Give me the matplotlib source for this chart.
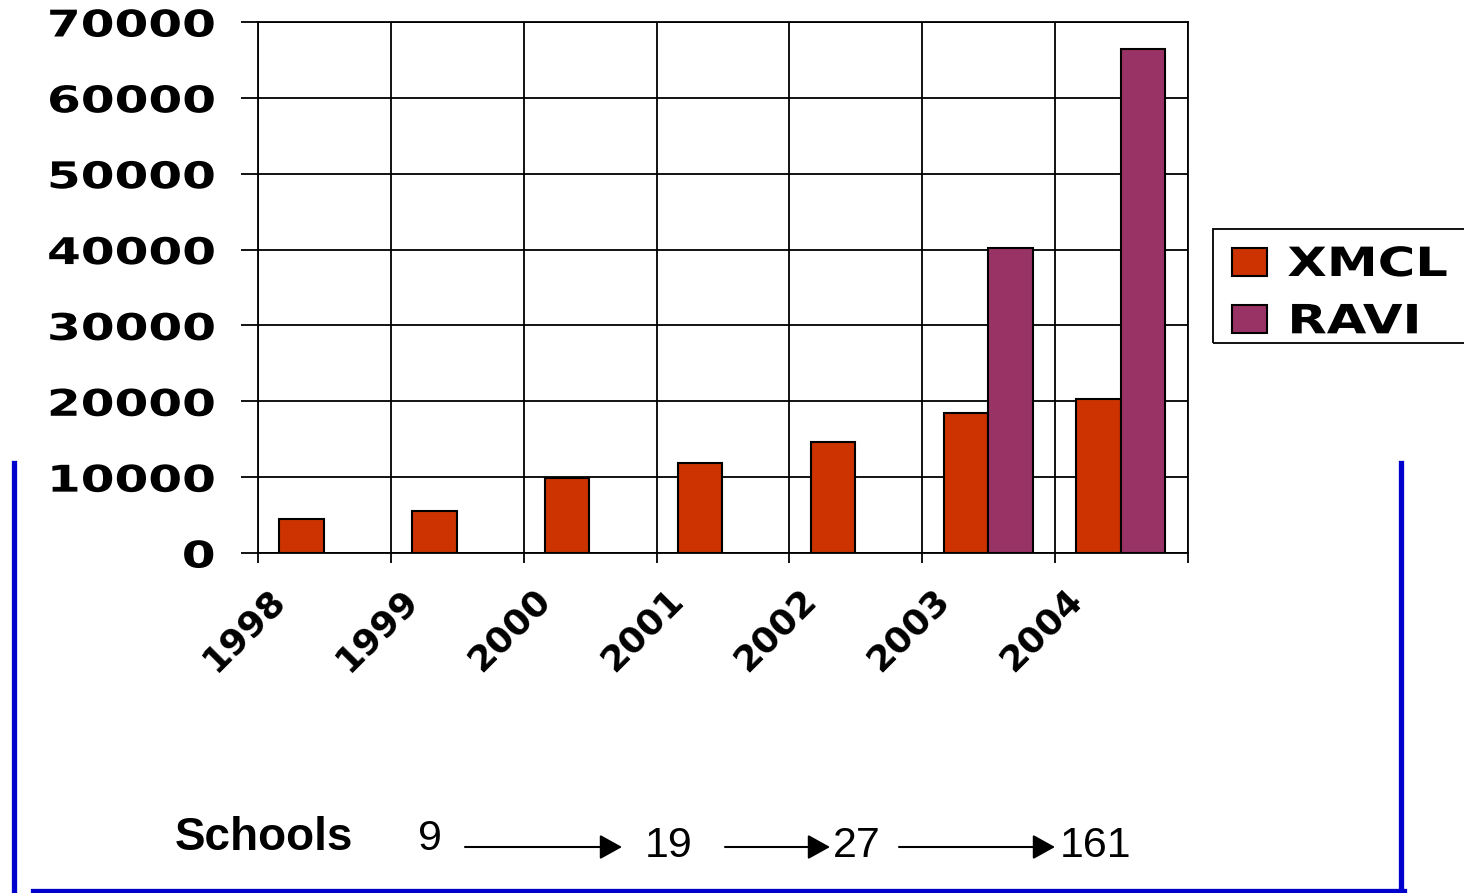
import matplotlib.pyplot as plt
import matplotlib.transforms as mtransforms
import numpy as np
from matplotlib.lines import Line2D
from matplotlib.patches import Rectangle
from matplotlib.patheffects import AbstractPathEffect

years = ["1998", "1999", "2000", "2001", "2002", "2003", "2004"]
xmcl = [4500, 5600, 9900, 11800, 14600, 18500, 20300]
ravi = [0, 0, 0, 0, 0, 40200, 66500]
y_ticks = [0, 10000, 20000, 30000, 40000, 50000, 60000, 70000]
schools = ["9", "19", "27", "161"]

XMCL_COLOR = "#CC3300"
RAVI_COLOR = "#993366"
BLUE = "#0000CC"
W, H = 1464, 893


class StretchX(AbstractPathEffect):
    """Stretch text glyphs horizontally (the original uses a very wide font)."""

    def __init__(self, sx, anchor="left"):
        super().__init__()
        self.sx = sx
        self.anchor = anchor

    def draw_path(self, renderer, gc, tpath, affine, rgbFace=None):
        xs = tpath.vertices[:, 0]
        x0 = xs.max() if (self.anchor == "right" and len(xs)) else 0.0
        t = mtransforms.Affine2D().translate(-x0, 0).scale(self.sx, 1).translate(x0, 0) + affine
        renderer.draw_path(gc, tpath, t, rgbFace)


fig = plt.figure(figsize=(W / 100, H / 100), dpi=100)
ax = fig.add_axes([258 / W, 1 - 553 / H, 930 / W, 531 / H])

x = np.arange(len(years))
w = 0.335
ax.bar(x + 0.16, xmcl, width=w, align="edge", color=XMCL_COLOR,
       edgecolor="black", linewidth=1.5, label="XMCL", zorder=3)
has_ravi = [v > 0 for v in ravi]
ax.bar(x[has_ravi] + 0.16 + w, np.array(ravi)[has_ravi], width=w, align="edge",
       color=RAVI_COLOR, edgecolor="black", linewidth=1.5, label="RAVI", zorder=3)

ax.set_xlim(0, len(years))
ax.set_ylim(0, 70000)
ax.set_yticks(y_ticks)
ax.set_yticklabels([str(v) for v in y_ticks])
ax.set_xticks(np.arange(len(years) + 1))
ax.set_xticklabels(years + [""])

ax.grid(True, color="black", linewidth=1.3, zorder=0)
for s in ax.spines.values():
    s.set_color("black")
    s.set_linewidth(1.3)

ax.tick_params(axis="y", length=12, width=1.3, pad=19, labelsize=26.5)
ax.tick_params(axis="x", length=7, width=1.3, pad=14, labelsize=26)
for lbl in ax.get_yticklabels():
    lbl.set_fontweight("bold")
    lbl.set_path_effects([StretchX(1.32, "right")])
offset = mtransforms.ScaledTranslation(-14 / 100, 0, fig.dpi_scale_trans)
for lbl in ax.get_xticklabels():
    lbl.set_fontweight("bold")
    lbl.set_rotation(45)
    lbl.set_ha("center")
    lbl.set_va("top")
    lbl.set_transform(lbl.get_transform() + offset)

# legend: frame drawn by hand, it runs off the right edge like the original
leg = fig.legend(loc="upper left", bbox_to_anchor=(1232 / W, 1 - 245 / H),
                 prop={"weight": "bold", "size": 29}, frameon=False,
                 handlelength=0.875, handleheight=0.68, handletextpad=0.5,
                 borderpad=0, borderaxespad=0, labelspacing=0.43)
for t in leg.get_texts():
    t.set_path_effects([StretchX(1.27)])
for h in leg.legend_handles:
    h.set_edgecolor("black")
    h.set_linewidth(1.5)
fig.add_artist(Rectangle((1213 / W, 1 - 343 / H), 300 / W, 114 / H,
                         transform=fig.transFigure, fill=False,
                         edgecolor="black", linewidth=1.3))

# blue bracket around the lower part
fig.add_artist(Line2D([14 / W, 14 / W], [0, 1 - 463 / H], color=BLUE, linewidth=3.8))
fig.add_artist(Line2D([33 / W, 1404 / W], [2.5 / H, 2.5 / H], color=BLUE, linewidth=3.8))
fig.add_artist(Line2D([1401 / W, 1401 / W], [2.5 / H, 1 - 463 / H], color=BLUE, linewidth=3.8))

fig.text(175 / W, 1 - 850 / H, "Schools", fontsize=33, fontweight="bold",
         family="Liberation Sans", va="baseline", ha="left")
num_x = [418, 645, 833, 1060]
num_base = [850, 857, 857, 857]
for s, nx, nb in zip(schools, num_x, num_base):
    fig.text(nx / W, 1 - nb / H, s, fontsize=31, family="Liberation Sans",
             va="baseline", ha="left")

ay = 1 - 847 / H
arrows = [(465, 622), (725, 830), (899, 1055)]
for x0, x1 in arrows:
    fig.add_artist(plt.Annotation("", xy=(x1 / W, ay), xytext=(x0 / W, ay),
                                  xycoords="figure fraction", textcoords="figure fraction",
                                  arrowprops=dict(arrowstyle="-|>,head_length=1.37,head_width=0.76",
                                                  color="black", lw=1.5,
                                                  shrinkA=0, shrinkB=0)))

fig.savefig("out.png", dpi=100)
